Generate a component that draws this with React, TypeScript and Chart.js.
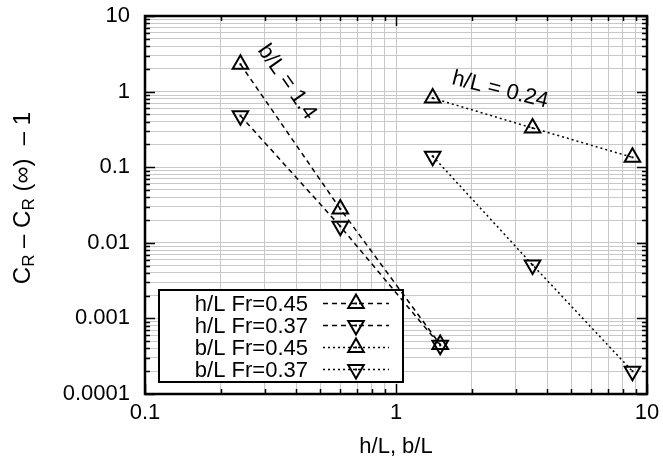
import React, { useEffect, useRef } from 'react';
import { Chart, registerables } from 'chart.js';
Chart.register(...registerables);

// ---- data ----
const hLx = [0.24, 0.6, 1.5];
const hLFr045 = [2.3, 0.028, 0.00045];
const hLFr037 = [0.48, 0.0165, 0.00044];
const bLx = [1.4, 3.5, 8.75];
const bLFr045 = [0.82, 0.33, 0.135];
const bLFr037 = [0.14, 0.0051, 0.0002];
const seriesNames = ['h/L Fr=0.45', 'h/L Fr=0.37', 'b/L Fr=0.45', 'b/L Fr=0.37'];

const xTickLabels = ['0.1', '1', '10'];
const xDecades = [-1, 0, 1];
const yTickLabels = ['0.0001', '0.001', '0.01', '0.1', '1', '10'];
const yDecades = [-4, -3, -2, -1, 0, 1];
const mantissas = [1, 2, 3, 4, 5, 6, 7, 8, 9];

const annoTexts = ['b/L = 1.4', 'h/L = 0.24'];
const annoX = [0.368, 2.6];
const annoY = [1.34, 1.05];
const annoAngle = [55, 14];

const xTitle = 'h/L, b/L';
const FONT = '"Liberation Sans", Arial, sans-serif';
const FS = 22;
const TFS = 24;

function gridValues(decades: number[]) {
  const out: number[] = [];
  for (let i = 0; i < decades.length - 1; i++) {
    for (const m of mantissas) out.push(Number((m * Math.pow(10, decades[i])).toPrecision(12)));
  }
  out.push(Math.pow(10, decades[decades.length - 1]));
  return out;
}
const isPow10 = (v: number) => Math.abs(Math.log10(v) - Math.round(Math.log10(v))) < 1e-6;

export default function App() {
  const ref = useRef<HTMLCanvasElement>(null);
  useEffect(() => {
    const canvas = ref.current!;
    const mk = (label: string, xs: number[], ys: number[], dash: number[], rot: number) => ({
      label,
      data: xs.map((x, i) => ({ x, y: ys[i] })),
      showLine: true,
      borderColor: '#000',
      borderWidth: 1.5,
      borderDash: dash,
      pointStyle: 'triangle',
      rotation: rot,
      pointRadius: 9,
      pointHoverRadius: 9,
      pointBorderWidth: 2,
      pointBorderColor: '#000',
      pointBackgroundColor: 'rgba(0,0,0,0)',
      fill: false,
      tension: 0,
    });
    const dashed = [5, 4];
    const dotted = [2, 3];
    const datasets = [
      mk(seriesNames[0], hLx, hLFr045, dashed, 0),
      mk(seriesNames[1], hLx, hLFr037, dashed, 180),
      mk(seriesNames[2], bLx, bLFr045, dotted, 0),
      mk(seriesNames[3], bLx, bLFr037, dotted, 180),
    ];

    const drawTri = (ctx: CanvasRenderingContext2D, x: number, y: number, r: number, down: boolean) => {
      ctx.beginPath();
      let rad = down ? Math.PI : 0;
      for (let k = 0; k < 3; k++) {
        const px = x + Math.sin(rad) * r;
        const py = y - Math.cos(rad) * r;
        if (k === 0) ctx.moveTo(px, py); else ctx.lineTo(px, py);
        rad += (2 * Math.PI) / 3;
      }
      ctx.closePath();
      ctx.stroke();
      ctx.fillRect(x - 1, y - 1, 2, 2);
    };

    const custom = {
      id: 'custom',
      beforeDatasetsDraw(chart: any) {
        const ctx = chart.ctx as CanvasRenderingContext2D;
        // legend box
        const L = 159, T = 290, R = 403, B = 382;
        ctx.save();
        ctx.fillStyle = '#fff';
        ctx.fillRect(L, T, R - L, B - T);
        ctx.strokeStyle = '#000';
        ctx.lineWidth = 2;
        ctx.strokeRect(L, T, R - L, B - T);
        ctx.font = `${FS}px ${FONT}`;
        ctx.fillStyle = '#000';
        ctx.textAlign = 'right';
        ctx.textBaseline = 'middle';
        datasets.forEach((ds, i) => {
          const y = 303.5 + i * 22;
          ctx.fillText(ds.label, 308, y + 1);
          ctx.save();
          ctx.lineWidth = 1.5;
          ctx.setLineDash(ds.borderDash);
          ctx.beginPath();
          ctx.moveTo(323, y);
          ctx.lineTo(389, y);
          ctx.stroke();
          ctx.restore();
          ctx.lineWidth = 2;
          ctx.setLineDash([]);
          drawTri(ctx, 356, y, 9, ds.rotation === 180);
        });
        ctx.restore();
      },
      afterDatasetsDraw(chart: any) {
        const ctx = chart.ctx as CanvasRenderingContext2D;
        const ca = chart.chartArea;
        const xs = chart.scales.x;
        const ys = chart.scales.y;
        ctx.save();
        // center dots of markers
        ctx.fillStyle = '#000';
        chart.data.datasets.forEach((_: any, i: number) => {
          chart.getDatasetMeta(i).data.forEach((p: any) => ctx.fillRect(p.x - 1, p.y - 1, 2, 2));
        });
        // inner ticks
        ctx.strokeStyle = '#000';
        ctx.lineWidth = 1.5;
        ctx.beginPath();
        gridValues(xDecades).forEach((v) => {
          const px = Math.round(xs.getPixelForValue(v)) + 0.5;
          const len = isPow10(v) ? 10 : 5;
          ctx.moveTo(px, ca.bottom); ctx.lineTo(px, ca.bottom - len);
          ctx.moveTo(px, ca.top); ctx.lineTo(px, ca.top + len);
        });
        gridValues(yDecades).forEach((v) => {
          const py = Math.round(ys.getPixelForValue(v)) + 0.5;
          const len = isPow10(v) ? 10 : 5;
          ctx.moveTo(ca.left, py); ctx.lineTo(ca.left + len, py);
          ctx.moveTo(ca.right, py); ctx.lineTo(ca.right - len, py);
        });
        ctx.stroke();
        // frame
        ctx.lineWidth = 2.5;
        ctx.strokeRect(ca.left, ca.top, ca.right - ca.left, ca.bottom - ca.top);
        // annotations
        ctx.font = `${FS}px ${FONT}`;
        ctx.textAlign = 'center';
        ctx.textBaseline = 'middle';
        annoTexts.forEach((t, i) => {
          ctx.save();
          ctx.translate(xs.getPixelForValue(annoX[i]), ys.getPixelForValue(annoY[i]));
          ctx.rotate((annoAngle[i] * Math.PI) / 180);
          ctx.fillText(t, 0, 0);
          ctx.restore();
        });
        ctx.restore();
      },
      afterDraw(chart: any) {
        const ctx = chart.ctx as CanvasRenderingContext2D;
        const ca = chart.chartArea;
        ctx.save();
        ctx.fillStyle = '#000';
        ctx.font = `${FS}px ${FONT}`;
        ctx.textAlign = 'center';
        ctx.textBaseline = 'middle';
        ctx.fillText(xTitle, (ca.left + ca.right) / 2, 447);
        // y title with subscripts
        const segs = [
          { t: 'C', sub: false }, { t: 'R', sub: true }, { t: ' – ', sub: false },
          { t: 'C', sub: false }, { t: 'R', sub: true }, { t: ' (∞)  – 1', sub: false },
        ];
        const fMain = `${TFS}px ${FONT}`;
        const fSub = `${Math.round(TFS * 0.7)}px ${FONT}`;
        let total = 0;
        segs.forEach((s) => { ctx.font = s.sub ? fSub : fMain; total += ctx.measureText(s.t).width; });
        ctx.translate(23, 198);
        ctx.rotate(-Math.PI / 2);
        ctx.textAlign = 'left';
        let x = -total / 2;
        segs.forEach((s) => {
          ctx.font = s.sub ? fSub : fMain;
          ctx.fillText(s.t, x, s.sub ? 6 : 0);
          x += ctx.measureText(s.t).width;
        });
        ctx.restore();
      },
    };

    const chart = new Chart(canvas, {
      type: 'scatter',
      data: { datasets: datasets as any },
      options: {
        responsive: false,
        animation: false,
        events: [],
        layout: { padding: { left: 0, right: 16, top: 16, bottom: 0 } },
        plugins: { legend: { display: false }, tooltip: { enabled: false } },
        scales: {
          x: {
            type: 'logarithmic',
            min: 0.1,
            max: 10,
            afterBuildTicks: (s: any) => { s.ticks = gridValues(xDecades).map((v) => ({ value: v })); },
            afterFit: (s: any) => { s.height = 69; s.paddingLeft = 0; s.paddingRight = 0; s.paddingTop = 0; s.paddingBottom = 0; },
            grid: { color: '#c8c8c8', lineWidth: 1, drawTicks: false },
            border: { display: false },
            ticks: {
              autoSkip: false,
              maxRotation: 0,
              padding: 6,
              color: '#000',
              font: { family: FONT, size: FS },
              callback: (v: any) => (isPow10(v) ? xTickLabels[xDecades.indexOf(Math.round(Math.log10(v)))] : ''),
            },
          },
          y: {
            type: 'logarithmic',
            min: 0.0001,
            max: 10,
            afterBuildTicks: (s: any) => { s.ticks = gridValues(yDecades).map((v) => ({ value: v })); },
            afterFit: (s: any) => { s.width = 145; s.paddingTop = 0; s.paddingBottom = 0; s.paddingLeft = 0; s.paddingRight = 0; },
            grid: { color: '#c8c8c8', lineWidth: 1, drawTicks: false },
            border: { display: false },
            ticks: {
              autoSkip: false,
              padding: 15,
              color: '#000',
              font: { family: FONT, size: FS },
              callback: (v: any) => (isPow10(v) ? yTickLabels[yDecades.indexOf(Math.round(Math.log10(v)))] : ''),
            },
          },
        },
      } as any,
      plugins: [custom],
    });
    return () => chart.destroy();
  }, []);
  return (
    <div style={{ position: 'fixed', left: 0, top: 0, width: 663, height: 463, background: '#fff' }}>
      <canvas ref={ref} width={663} height={463} style={{ display: 'block' }} />
    </div>
  );
}
